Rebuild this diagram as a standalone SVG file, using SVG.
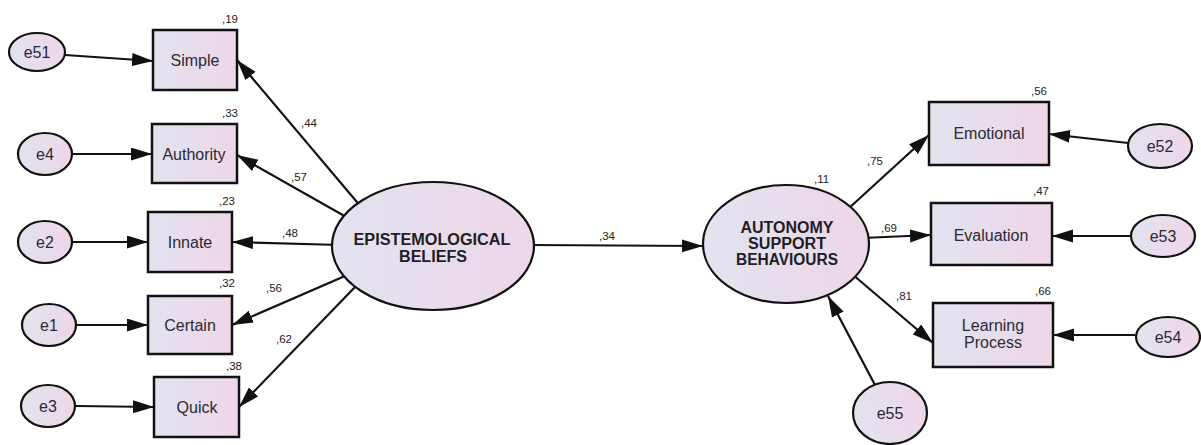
<svg xmlns="http://www.w3.org/2000/svg" width="1201" height="445" viewBox="0 0 1201 445">
  <defs>
    <linearGradient id="fillGrad" x1="0" y1="0" x2="1" y2="0">
      <stop offset="0" stop-color="#e2e3ef"/>
      <stop offset="1" stop-color="#eed6e8"/>
    </linearGradient>
    <marker id="arrow" markerUnits="userSpaceOnUse" markerWidth="24" markerHeight="14" refX="21" refY="6.5" orient="auto">
      <path d="M0,0 L21,6.5 L0,13 z" fill="#111"/>
    </marker>
    <style>
      .box { fill: url(#fillGrad); stroke: #111; stroke-width: 2.5; }
      .ell { fill: url(#fillGrad); stroke: #111; stroke-width: 2.2; }
      .edge { stroke: #111; stroke-width: 2.2; fill: none; marker-end: url(#arrow); }
      .lbl { font-family: "Liberation Sans", Arial, sans-serif; font-size: 16px; fill: #2a2a35; text-anchor: middle; }
      .big { font-family: "Liberation Sans", Arial, sans-serif; font-size: 16px; font-weight: bold; fill: #1e1e24; text-anchor: middle; }
      .num { font-family: "Liberation Sans", Arial, sans-serif; font-size: 11.5px; fill: #222; }
    </style>
  </defs>

  <rect width="1201" height="445" fill="#ffffff"/>

  <!-- paths (drawn first so node fills cover the line starts) -->
  <g id="connectors">
    <line class="edge" x1="65" y1="55" x2="153" y2="61"/>
    <line class="edge" x1="72" y1="154" x2="152" y2="154"/>
    <line class="edge" x1="72" y1="242" x2="148" y2="242"/>
    <line class="edge" x1="77" y1="325" x2="148" y2="325"/>
    <line class="edge" x1="76" y1="406" x2="154" y2="407"/>

    <line class="edge" x1="362" y1="208" x2="237" y2="60"/>
    <line class="edge" x1="348" y1="218" x2="237" y2="155"/>
    <line class="edge" x1="340" y1="245" x2="232" y2="242"/>
    <line class="edge" x1="345" y1="276" x2="232" y2="325"/>
    <line class="edge" x1="356" y1="286" x2="239" y2="407"/>

    <line class="edge" x1="530" y1="245" x2="703" y2="246"/>

    <line class="edge" x1="848" y1="209" x2="929" y2="135"/>
    <line class="edge" x1="862" y1="238" x2="931" y2="235"/>
    <line class="edge" x1="852" y1="274" x2="933" y2="343"/>
    <line class="edge" x1="875" y1="385" x2="828" y2="296"/>

    <line class="edge" x1="1128" y1="143" x2="1049" y2="134"/>
    <line class="edge" x1="1132" y1="236" x2="1052" y2="236"/>
    <line class="edge" x1="1135" y1="335" x2="1053" y2="335"/>
  </g>

  <!-- path coefficients -->
  <g id="coefficients">
    <text class="num" x="301" y="127">,44</text>
    <text class="num" x="291" y="181">,57</text>
    <text class="num" x="282" y="237">,48</text>
    <text class="num" x="266" y="292">,56</text>
    <text class="num" x="276" y="343">,62</text>
    <text class="num" x="599" y="240">,34</text>
    <text class="num" x="867" y="165">,75</text>
    <text class="num" x="881" y="232">,69</text>
    <text class="num" x="896" y="300">,81</text>
  </g>

  <!-- error terms, left -->
  <g id="e51"><ellipse class="ell" cx="37" cy="52" rx="28" ry="19"/><text class="lbl" x="37" y="58">e51</text></g>
  <g id="e4"><ellipse class="ell" cx="45" cy="154" rx="27" ry="21"/><text class="lbl" x="45" y="160">e4</text></g>
  <g id="e2"><ellipse class="ell" cx="45" cy="242" rx="27" ry="21"/><text class="lbl" x="45" y="248">e2</text></g>
  <g id="e1"><ellipse class="ell" cx="49" cy="325" rx="27" ry="21"/><text class="lbl" x="49" y="331">e1</text></g>
  <g id="e3"><ellipse class="ell" cx="48" cy="406" rx="27" ry="21"/><text class="lbl" x="48" y="412">e3</text></g>

  <!-- observed indicators, left -->
  <g id="simple"><rect class="box" x="153" y="30" width="84" height="60"/><text class="lbl" x="195" y="66">Simple</text><text class="num" x="222" y="23">,19</text></g>
  <g id="authority"><rect class="box" x="152" y="124" width="85" height="59"/><text class="lbl" x="194" y="160">Authority</text><text class="num" x="222" y="117">,33</text></g>
  <g id="innate"><rect class="box" x="148" y="212" width="84" height="60"/><text class="lbl" x="190" y="248">Innate</text><text class="num" x="219" y="205">,23</text></g>
  <g id="certain"><rect class="box" x="148" y="296" width="84" height="58"/><text class="lbl" x="190" y="331">Certain</text><text class="num" x="219" y="287">,32</text></g>
  <g id="quick"><rect class="box" x="154" y="377" width="85" height="60"/><text class="lbl" x="197" y="413">Quick</text><text class="num" x="226" y="370">,38</text></g>

  <!-- latent factors -->
  <g id="epistemological-beliefs">
    <ellipse class="ell" cx="433" cy="246" rx="101" ry="64"/>
    <text class="big" x="432" y="245" textLength="157" lengthAdjust="spacingAndGlyphs">EPISTEMOLOGICAL</text>
    <text class="big" x="433" y="262" textLength="68" lengthAdjust="spacingAndGlyphs">BELIEFS</text>
  </g>
  <g id="autonomy-support">
    <ellipse class="ell" cx="786" cy="244" rx="83" ry="59"/>
    <text class="big" x="787" y="233" textLength="93" lengthAdjust="spacingAndGlyphs">AUTONOMY</text>
    <text class="big" x="787" y="249" textLength="78" lengthAdjust="spacingAndGlyphs">SUPPORT</text>
    <text class="big" x="787" y="265" textLength="102" lengthAdjust="spacingAndGlyphs">BEHAVIOURS</text>
    <text class="num" x="814" y="183">,11</text>
  </g>

  <!-- observed indicators, right -->
  <g id="emotional"><rect class="box" x="929" y="102" width="120" height="63"/><text class="lbl" x="989" y="139">Emotional</text><text class="num" x="1031" y="95">,56</text></g>
  <g id="evaluation"><rect class="box" x="931" y="203" width="121" height="62"/><text class="lbl" x="991" y="241">Evaluation</text><text class="num" x="1033" y="195">,47</text></g>
  <g id="learning-process"><rect class="box" x="933" y="303" width="120" height="64"/><text class="lbl" x="993" y="331">Learning</text><text class="lbl" x="993" y="348">Process</text><text class="num" x="1035" y="295">,66</text></g>

  <!-- error terms, right -->
  <g id="e52"><ellipse class="ell" cx="1160" cy="146" rx="32" ry="22"/><text class="lbl" x="1160" y="152">e52</text></g>
  <g id="e53"><ellipse class="ell" cx="1163" cy="236" rx="32" ry="21"/><text class="lbl" x="1163" y="242">e53</text></g>
  <g id="e54"><ellipse class="ell" cx="1168" cy="337" rx="32" ry="20"/><text class="lbl" x="1168" y="343">e54</text></g>
  <g id="e55"><ellipse class="ell" cx="890" cy="413" rx="37" ry="31"/><text class="lbl" x="890" y="419">e55</text></g>
</svg>
